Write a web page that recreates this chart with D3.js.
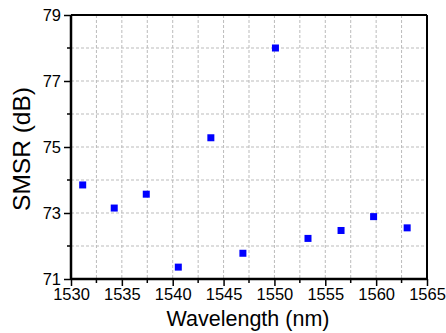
<!DOCTYPE html>
<html>
<head>
<meta charset="utf-8">
<script src="https://cdn.jsdelivr.net/npm/d3@7"></script>
<style>
  body { margin: 0; background: #fff; }
  text { font-family: "Liberation Sans", Arial, sans-serif; fill: #000; }
</style>
</head>
<body>
<svg id="chart" width="446" height="333"></svg>
<script>
var wavelength = [1531.15, 1534.25, 1537.4, 1540.55, 1543.75, 1546.9, 1550.1, 1553.3, 1556.55, 1559.75, 1563.05];
var smsr = [73.85, 73.15, 73.57, 71.36, 75.28, 71.78, 78.0, 72.23, 72.47, 72.89, 72.55];
var xTicks = [1530, 1535, 1540, 1545, 1550, 1555, 1560, 1565];
var yTicks = [71, 73, 75, 77, 79];

var margin = { left: 71, top: 15, right: 19, bottom: 54 };
var width = 446 - margin.left - margin.right;
var height = 333 - margin.top - margin.bottom;

var svg = d3.select('#chart');
var g = svg.append('g').attr('transform', 'translate(' + margin.left + ',' + margin.top + ')');

var x = d3.scaleLinear().domain([1530, 1565]).range([0, width]);
var y = d3.scaleLinear().domain([71, 79]).range([height, 0]);

var xGrid = d3.range(1532.5, 1565, 2.5);
var yGrid = d3.range(72, 79, 1);

g.selectAll('.vgrid').data(xGrid).enter().append('line')
  .attr('x1', function(d) { return x(d); })
  .attr('x2', function(d) { return x(d); })
  .attr('y1', 0).attr('y2', height)
  .attr('stroke', '#bbb').attr('stroke-width', 1).attr('stroke-dasharray', '3,2');

g.selectAll('.hgrid').data(yGrid).enter().append('line')
  .attr('y1', function(d) { return y(d); })
  .attr('y2', function(d) { return y(d); })
  .attr('x1', 0).attr('x2', width)
  .attr('stroke', '#bbb').attr('stroke-width', 1).attr('stroke-dasharray', '3,2');

// minor ticks
g.selectAll('.xminor').data(d3.range(1532.5, 1565, 5)).enter().append('line')
  .attr('x1', function(d) { return x(d); })
  .attr('x2', function(d) { return x(d); })
  .attr('y1', height).attr('y2', height + 4)
  .attr('stroke', '#000').attr('stroke-width', 1.5);
g.selectAll('.yminor').data([72, 74, 76, 78]).enter().append('line')
  .attr('y1', function(d) { return y(d); })
  .attr('y2', function(d) { return y(d); })
  .attr('x1', 0).attr('x2', -4)
  .attr('stroke', '#000').attr('stroke-width', 1.5);

var xAxis = g.append('g').attr('transform', 'translate(0,' + height + ')')
  .call(d3.axisBottom(x).tickValues(xTicks).tickFormat(d3.format('d')).tickSizeOuter(0).tickSize(7).tickPadding(2));
var yAxis = g.append('g')
  .call(d3.axisLeft(y).tickValues(yTicks).tickFormat(d3.format('d')).tickSizeOuter(0).tickSize(7).tickPadding(3));

[xAxis, yAxis].forEach(function(a) {
  a.attr('font-size', null).attr('font-family', null);
  a.select('.domain').remove();
  a.selectAll('line').attr('stroke', '#000').attr('stroke-width', 1.5);
  a.selectAll('text').style('font-size', '16.5px');
});

// frame
g.append('line').attr('x1', 0).attr('x2', width).attr('y1', 0).attr('y2', 0)
  .attr('stroke', '#000').attr('stroke-width', 2);
g.append('line').attr('x1', width).attr('x2', width).attr('y1', 0).attr('y2', height)
  .attr('stroke', '#000').attr('stroke-width', 2);
g.append('line').attr('x1', 0).attr('x2', width).attr('y1', height).attr('y2', height)
  .attr('stroke', '#000').attr('stroke-width', 2.5);
g.append('line').attr('x1', 0).attr('x2', 0).attr('y1', 0).attr('y2', height)
  .attr('stroke', '#000').attr('stroke-width', 2.5);

var pts = wavelength.map(function(w, i) { return { x: w, y: smsr[i] }; });
var s = 7;
g.selectAll('.pt').data(pts).enter().append('rect')
  .attr('x', function(d) { return x(d.x) - s / 2; })
  .attr('y', function(d) { return y(d.y) - s / 2; })
  .attr('width', s).attr('height', s)
  .attr('fill', '#0000ff');

svg.append('text')
  .attr('x', margin.left + width / 2 - 1)
  .attr('y', 326)
  .attr('text-anchor', 'middle')
  .style('font-size', '21.5px')
  .text('Wavelength (nm)');

svg.append('text')
  .attr('transform', 'translate(30,149) rotate(-90)')
  .attr('text-anchor', 'middle')
  .style('font-size', '24.5px')
  .text('SMSR (dB)');
</script>
</body>
</html>
